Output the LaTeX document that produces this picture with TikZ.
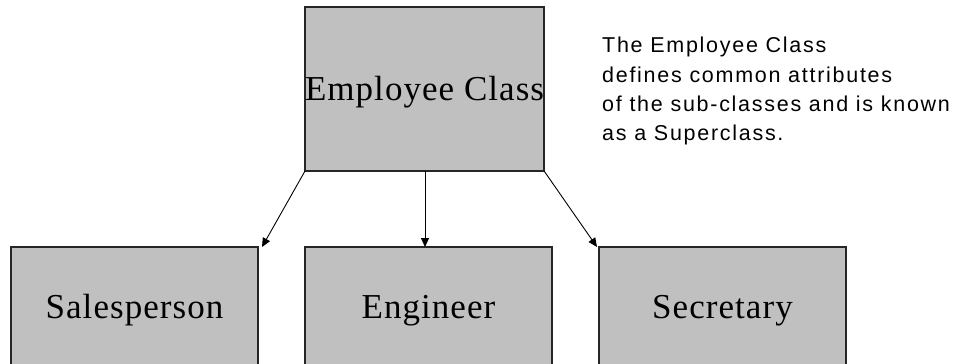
\documentclass[tikz,border=0pt]{standalone}
\usepackage{fontspec}
\setmainfont[LetterSpace=3]{Liberation Serif}
\newfontfamily\notefont[LetterSpace=8]{Liberation Sans}
\usetikzlibrary{positioning, arrows.meta}
\definecolor{boxgray}{RGB}{192,192,192}
\tikzset{
  x=1pt, y=-1pt,
  >={Triangle[length=9pt,width=8pt]},
  node distance=47pt,
  classbox/.style={draw=black!85, line width=1.5pt, fill=boxgray, outer sep=0pt,
    inner sep=0pt, text height=23pt, text depth=0pt, font=\fontsize{35}{40}\selectfont},
  link/.style={->, line width=0.9pt},
}

\begin{document}
\begin{tikzpicture}
  \useasboundingbox (0,0) rectangle (954,364);
  \clip (0,0) rectangle (954,364);

  % superclass
  \node[classbox, anchor=north west, minimum width=239pt, minimum height=164pt] (emp) at (305,7) {Employee Class};

  % sub-classes
  \node[classbox, anchor=north west, minimum width=247pt, minimum height=120pt] (eng) at (305,247) {Engineer};
  \node[classbox, minimum width=247pt, minimum height=120pt, left=of eng] (sales) {Salesperson};
  \node[classbox, minimum width=247pt, minimum height=120pt, right=of eng] (sec) {Secretary};

  % note
  \node[anchor=north west, inner sep=0pt, align=left,
        font=\notefont\fontsize{21.5}{29.4}\selectfont] (note) at (602,37)
    {The Employee Class\\defines common attributes\\of the sub-classes and is known\\as a Superclass.};

  % inheritance links
  \draw[link] (emp.south west) -- ([xshift=4pt]sales.north east);
  \draw[link] ([xshift=120pt]emp.south west) -- ([xshift=120pt]eng.north west);
  \draw[link] (emp.south east) -- ([xshift=-2pt]sec.north west);
\end{tikzpicture}
\end{document}
